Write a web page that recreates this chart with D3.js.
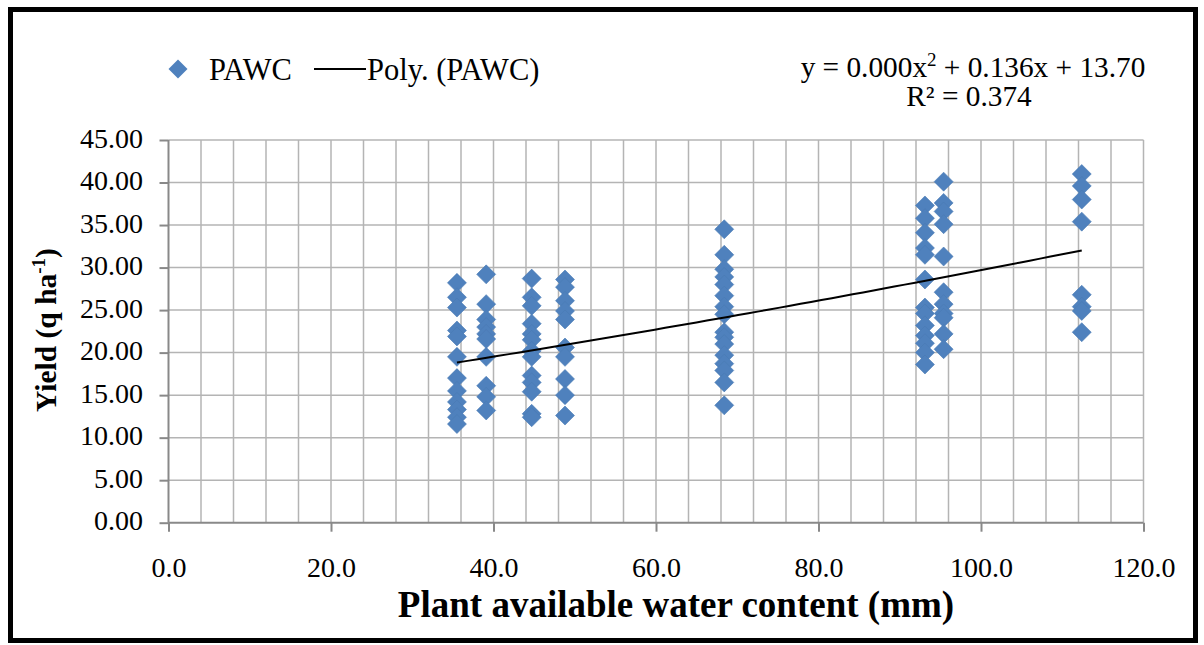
<!DOCTYPE html>
<html>
<head>
<meta charset="utf-8">
<script src="https://cdn.jsdelivr.net/npm/d3@7"></script>
<style>
  html, body { margin: 0; padding: 0; background: #fff; }
  svg { display: block; }
  text { font-family: "Liberation Serif", "Times New Roman", serif; fill: #000; }
</style>
</head>
<body>
<svg id="chart" width="1204" height="645"></svg>
<script>
// Plant available water content levels (mm) and the yields observed at each
const pawcLevels = [35.5, 39.1, 44.7, 48.8, 68.4, 93.1, 95.4, 112.4];
const yieldByLevel = [
  [28.2, 26.5, 25.3, 22.6, 21.9, 19.5, 17.0, 15.5, 14.2, 13.3, 12.4, 11.6],
  [29.2, 25.7, 23.9, 23.0, 22.2, 21.6, 19.5, 16.1, 14.8, 13.2],
  [28.7, 26.5, 25.5, 23.4, 22.2, 21.5, 20.2, 19.5, 17.3, 16.5, 15.4, 12.8, 12.4],
  [28.6, 27.7, 26.1, 24.9, 23.9, 20.6, 19.5, 16.9, 15.0, 12.6],
  [34.5, 31.5, 29.8, 28.9, 28.0, 26.7, 25.4, 24.5, 22.4, 21.8, 21.0, 19.7, 18.7, 17.9, 16.5, 13.8],
  [37.3, 35.8, 34.1, 32.3, 31.5, 28.6, 25.3, 24.6, 23.2, 22.0, 21.1, 20.0, 18.6],
  [40.1, 37.6, 36.6, 35.1, 31.3, 27.1, 25.7, 24.6, 24.1, 22.2, 20.4],
  [41.0, 39.6, 38.0, 35.4, 26.8, 25.4, 24.9, 22.4]
];

// Second-order polynomial trendline coefficients: a*x^2 + b*x + c
const polyCoef = [0.00024, 0.136, 13.70];
const rSquared = 0.374;

// Axis ticks
const xTicks = [0, 20, 40, 60, 80, 100, 120];
const xGridStep = 4;
const yTicks = [0, 5, 10, 15, 20, 25, 30, 35, 40, 45];

const seriesName = "PAWC";
const trendName = "Poly. (PAWC)";
const xTitle = "Plant available water content (mm)";

const serif = '"Liberation Serif", "Times New Roman", serif';
const svg = d3.select("#chart");
const W = 1204, H = 645;
const plot = { left: 168.5, right: 1143.5, top: 140, bottom: 522.7 };

const x = d3.scaleLinear().domain([0, 120]).range([plot.left, plot.right]);
const y = d3.scaleLinear().domain([0, 45]).range([plot.bottom, plot.top]);

const blue = "#4F81BD";
const gridColor = "#b4b4b4";
const axisColor = "#898989";

svg.append("rect").attr("width", W).attr("height", H).attr("fill", "#fff");

// Gridlines
const g = svg.append("g");
g.selectAll("line.vgrid")
  .data(d3.range(xGridStep, 120 + 0.001, xGridStep))
  .join("line")
  .attr("x1", d => x(d)).attr("x2", d => x(d))
  .attr("y1", plot.top).attr("y2", plot.bottom)
  .attr("stroke", gridColor).attr("stroke-width", 1.5);
g.selectAll("line.hgrid")
  .data(yTicks.filter(d => d > 0))
  .join("line")
  .attr("x1", plot.left).attr("x2", plot.right)
  .attr("y1", d => y(d)).attr("y2", d => y(d))
  .attr("stroke", gridColor).attr("stroke-width", 1.5);

// Axes
const xAxis = d3.axisBottom(x).tickValues(xTicks).tickSize(9).tickFormat(d3.format(".1f"));
const yAxis = d3.axisLeft(y).tickValues(yTicks).tickSize(9).tickFormat(d3.format(".2f"));

const gx = svg.append("g").attr("transform", `translate(0,${plot.bottom})`).call(xAxis);
const gy = svg.append("g").attr("transform", `translate(${plot.left},0)`).call(yAxis);
[gx, gy].forEach(ax => {
  ax.attr("font-family", serif).attr("font-size", 28);
  ax.select(".domain").attr("stroke", axisColor).attr("stroke-width", 2);
  ax.selectAll(".tick line").attr("stroke", axisColor).attr("stroke-width", 2);
  ax.selectAll(".tick text").attr("fill", "#000");
});
gx.select(".domain").attr("d", `M${plot.left},0H${plot.right}`);
gy.select(".domain").attr("d", `M0,${plot.bottom}V${plot.top}`);
gx.selectAll(".tick text").attr("y", 54).attr("dy", null);
gy.selectAll(".tick text").attr("x", -25.5).attr("dy", null).attr("y", 7);

// Trendline over the observed range
const xMin = d3.min(pawcLevels), xMax = d3.max(pawcLevels);
const poly = v => polyCoef[0] * v * v + polyCoef[1] * v + polyCoef[2];
const trendPts = d3.range(xMin, xMax + 0.0001, (xMax - xMin) / 60).map(v => [v, poly(v)]);
const line = d3.line().x(d => x(d[0])).y(d => y(d[1]));

// Points
const points = [];
pawcLevels.forEach((lv, i) => yieldByLevel[i].forEach(v => points.push([lv, v])));
const diamond = r => `M0,${-r}L${r},0L0,${r}L${-r},0Z`;
svg.append("g").selectAll("path")
  .data(points)
  .join("path")
  .attr("d", diamond(9.5))
  .attr("transform", d => `translate(${x(d[0])},${y(d[1])})`)
  .attr("fill", blue)
  .attr("stroke", "#4a7ab3")
  .attr("stroke-width", 0.6);

svg.append("path")
  .datum(trendPts)
  .attr("d", line)
  .attr("fill", "none")
  .attr("stroke", "#000")
  .attr("stroke-width", 2);

// Legend
const lg = svg.append("g").attr("font-family", serif);
lg.append("path").attr("d", diamond(9.5)).attr("transform", "translate(178,69)").attr("fill", blue);
lg.append("text").attr("x", 209).attr("y", 80).style("font-size", "30.5px").text(seriesName);
lg.append("line").attr("x1", 314).attr("x2", 366).attr("y1", 69).attr("y2", 69)
  .attr("stroke", "#000").attr("stroke-width", 2);
lg.append("text").attr("x", 367).attr("y", 80).style("font-size", "30.5px").text(trendName);

// Trendline equation
const eq = svg.append("text").attr("x", 973).attr("y", 77).attr("text-anchor", "middle").style("font-size", "29.3px");
eq.append("tspan").text(`y = ${polyCoef[0].toFixed(3)}x`);
eq.append("tspan").attr("dy", -11).style("font-size", "19px").text("2");
eq.append("tspan").attr("dy", 11).text(` + ${polyCoef[1].toFixed(3)}x + ${polyCoef[2].toFixed(2)}`);
svg.append("text").attr("x", 969).attr("y", 106).attr("text-anchor", "middle").style("font-size", "29.3px")
  .text(`R² = ${rSquared.toFixed(3)}`);

// Axis titles
svg.append("text")
  .attr("x", 676).attr("y", 617)
  .attr("text-anchor", "middle")
  .style("font-size", "37px").style("font-weight", "bold")
  .text(xTitle);

const yt = svg.append("text")
  .attr("transform", "translate(56,330) rotate(-90)")
  .attr("text-anchor", "middle")
  .style("font-size", "29.5px").style("font-weight", "bold");
yt.append("tspan").text("Yield (q ha");
yt.append("tspan").attr("dy", -11).style("font-size", "19px").text("-1");
yt.append("tspan").attr("dy", 11).text(")");

// Outer frame
svg.append("rect")
  .attr("x", 10.5).attr("y", 9.5)
  .attr("width", 1185).attr("height", 631)
  .attr("fill", "none").attr("stroke", "#000").attr("stroke-width", 5);
</script>
</body>
</html>
